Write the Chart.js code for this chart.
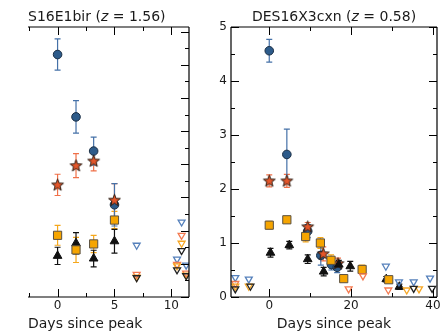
<!DOCTYPE html>
<html>
<head>
<meta charset="utf-8">
<script src="https://cdn.jsdelivr.net/npm/chart.js@4.4.1/dist/chart.umd.min.js"></script>
<style>
  html, body { margin: 0; padding: 0; background: #fff; }
  #wrap { position: relative; width: 444px; height: 332px; overflow: hidden; }
  #left { position: absolute; left: 0; top: 0; }
  #right { position: absolute; left: 200px; top: 0; }
</style>
</head>
<body>
<div id="wrap">
  <canvas id="left" width="200" height="332"></canvas>
  <canvas id="right" width="244" height="332"></canvas>
</div>
<script>
// ---- S16E1bir (left panel) ----
const leftDays = [0, 1.62, 3.17, 5.0];
const leftBlue = [3.655, 2.715, 2.20, 1.39];
const leftBlueErr = [0.235, 0.245, 0.21, 0.32];
const leftRed = [1.69, 1.98, 2.05, 1.46];
const leftRedErr = [0.16, 0.18, 0.15, 0.25];
const leftOrange = [0.93, 0.71, 0.80, 1.16];
const leftOrangeErr = [0.15, 0.19, 0.13, 0.13];
const leftBlack = [0.62, 0.81, 0.58, 0.84];
const leftBlackErr = [0.13, 0.16, 0.125, 0.18];
// upper limits
const leftLimDays = [6.95, 10.5, 10.9, 11.3];
const leftBlueLim = [0.78, 0.57, 1.13, 0.48];
const leftRedLim = [0.34, 0.49, 0.93, 0.36];
const leftOrangeLim = [0.30, 0.47, 0.81, 0.33];
const leftBlackLim = [0.29, 0.41, 0.70, 0.32];

// ---- DES16X3cxn (right panel) ----
const rBlueDays = [0, 4.3, 9.4, 12.6, 15.2, 16.6];
const rBlue = [4.56, 2.64, 1.22, 0.77, 0.60, 0.55];
const rBlueErr = [0.21, 0.47, 0.12, 0.18, 0.1, 0.1];
const rRedDays = [0, 4.3, 9.4, 13.2, 16.8];
const rRed = [2.15, 2.15, 1.30, 0.80, 0.62];
const rRedErr = [0.11, 0.12, 0.08, 0.13, 0.1];
const rOrangeDays = [0, 4.3, 8.9, 12.5, 15.1, 18.2, 22.7, 29.2];
const rOrange = [1.33, 1.43, 1.12, 1.0, 0.68, 0.34, 0.51, 0.32];
const rOrangeErr = [0.07, 0.05, 0.1, 0.1, 0.1, 0.05, 0.08, 0.04];
const rBlackDays = [0.3, 4.9, 9.4, 13.3, 17.0, 19.8, 28.6, 31.8];
const rBlack = [0.82, 0.96, 0.70, 0.47, 0.60, 0.57, 0.33, 0.19];
const rBlackErr = [0.08, 0.07, 0.08, 0.08, 0.08, 0.09, 0.05, 0.05];
// upper limits
const rBlueLimDays = [-8.3, -5.0, 28.5, 31.7, 35.3, 39.3];
const rBlueLim = [0.36, 0.33, 0.57, 0.28, 0.28, 0.35];
const rRedLimDays = [-8.3, 19.4, 22.9, 29.1];
const rRedLim = [0.25, 0.15, 0.39, 0.13];
const rOrangeLimDays = [-8.3, -5.0, 33.6, 36.6];
const rOrangeLim = [0.20, 0.20, 0.13, 0.15];
const rBlackLimDays = [-8.3, -4.6, 35.3, 39.8];
const rBlackLim = [0.15, 0.20, 0.16, 0.16];

// axis ticks
const leftXMajor = [0, 5, 10];
const leftXMinor = [-2.5, 2.5, 7.5];
const leftYMajor = [0, 0.5, 1, 1.5, 2, 2.5, 3, 3.5, 4];
const leftYMinor = [0.25, 0.75, 1.25, 1.75, 2.25, 2.75, 3.25, 3.75];
const rightXMajor = [0, 20, 40];
const rightXMinor = [10, 30];
const rightYMajor = [0, 1, 2, 3, 4, 5];
const rightYMinor = [0.5, 1.5, 2.5, 3.5, 4.5];

const C = {
  blue: '#2d5b8a', blueEdge: '#1a2e44', blueErr: '#4571a8', blueLim: '#5580bb',
  red: '#e4562a', redErr: '#f07048', redLim: '#f47a50',
  orange: '#f6a500', orangeEdge: '#5a5040', orangeErr: '#f5a81c', orangeLim: '#f6a623',
  black: '#111111', blackLim: '#222222'
};

function pts(xs, ys) { return xs.map((x, i) => ({ x: x, y: ys[i] })); }

// filled five-pointed star marker
const star = document.createElement('canvas');
star.width = 15; star.height = 15;
(function () {
  const g = star.getContext('2d');
  g.beginPath();
  for (let k = 0; k < 10; k++) {
    const r = k % 2 === 0 ? 6.2 : 2.6;
    const a = -Math.PI / 2 + k * Math.PI / 5;
    const px = 7.5 + r * Math.cos(a), py = 7.8 + r * Math.sin(a);
    if (k === 0) g.moveTo(px, py); else g.lineTo(px, py);
  }
  g.closePath();
  g.fillStyle = C.red; g.fill();
  g.lineWidth = 1; g.strokeStyle = '#2a1a10'; g.stroke();
})();

function limSet(xs, ys, col) {
  return {
    data: pts(xs, ys), pointStyle: 'triangle', rotation: 180, pointRadius: 4,
    backgroundColor: 'rgba(255,255,255,0)', borderColor: col, borderWidth: 1.3
  };
}

function makeSets(p) {
  return [
    limSet(p.limBlack[0], p.limBlack[1], C.blackLim),
    limSet(p.limOrange[0], p.limOrange[1], C.orangeLim),
    limSet(p.limRed[0], p.limRed[1], C.redLim),
    limSet(p.limBlue[0], p.limBlue[1], C.blueLim),
    { data: pts(p.orange[0], p.orange[1]), err: p.orange[2], errColor: C.orangeErr,
      pointStyle: 'rect', pointRadius: 5.8, backgroundColor: C.orange, borderColor: C.orangeEdge, borderWidth: 1 },
    { data: pts(p.black[0], p.black[1]), err: p.black[2], errColor: C.black,
      pointStyle: 'triangle', pointRadius: 5, backgroundColor: C.black, borderColor: C.black, borderWidth: 1 },
    { data: pts(p.red[0], p.red[1]), err: p.red[2], errColor: C.redErr,
      pointStyle: star, pointRadius: 6 },
    { data: pts(p.blue[0], p.blue[1]), err: p.blue[2], errColor: C.blueErr,
      pointStyle: 'circle', pointRadius: 4.3, backgroundColor: C.blue, borderColor: C.blueEdge, borderWidth: 1 }
  ];
}

const frame = {
  id: 'frame',
  beforeDatasetsDraw(chart) {
    const ctx = chart.ctx, xs = chart.scales.x, ys = chart.scales.y;
    ctx.save();
    ctx.lineWidth = 1.2;
    chart.data.datasets.forEach(ds => {
      if (!ds.err) return;
      ctx.strokeStyle = ds.errColor;
      ds.data.forEach((d, i) => {
        const px = xs.getPixelForValue(d.x);
        const y1 = ys.getPixelForValue(d.y + ds.err[i]);
        const y2 = ys.getPixelForValue(d.y - ds.err[i]);
        ctx.beginPath();
        ctx.moveTo(px, y1); ctx.lineTo(px, y2);
        ctx.moveTo(px - 3, y1); ctx.lineTo(px + 3, y1);
        ctx.moveTo(px - 3, y2); ctx.lineTo(px + 3, y2);
        ctx.stroke();
      });
    });
    ctx.restore();
  },
  afterDatasetsDraw(chart, args, o) {
    const ctx = chart.ctx, a = chart.chartArea, xs = chart.scales.x, ys = chart.scales.y;
    ctx.save();
    ctx.strokeStyle = '#000';
    ctx.lineWidth = 1.2;
    ctx.beginPath();
    if (o.spines.includes('top')) { ctx.moveTo(a.left, a.top); ctx.lineTo(a.right, a.top); }
    if (o.spines.includes('bottom')) { ctx.moveTo(a.left, a.bottom); ctx.lineTo(a.right, a.bottom); }
    if (o.spines.includes('left')) { ctx.moveTo(a.left, a.top); ctx.lineTo(a.left, a.bottom); }
    if (o.spines.includes('right')) { ctx.moveTo(a.right, a.top); ctx.lineTo(a.right, a.bottom); }
    ctx.stroke();
    ctx.lineWidth = 1;
    ctx.beginPath();
    const xt = (list, len) => list.forEach(v => {
      const px = Math.round(xs.getPixelForValue(v)) + 0.5;
      ctx.moveTo(px, a.bottom); ctx.lineTo(px, a.bottom - len);
      ctx.moveTo(px, a.top); ctx.lineTo(px, a.top + len);
    });
    const yt = (list, len) => list.forEach(v => {
      const py = Math.round(ys.getPixelForValue(v)) + 0.5;
      if (o.spines.includes('left')) { ctx.moveTo(a.left, py); ctx.lineTo(a.left + len, py); }
      ctx.moveTo(a.right, py); ctx.lineTo(a.right - len, py);
    });
    xt(o.xMajor, 8); xt(o.xMinor, 4); yt(o.yMajor, 8); yt(o.yMinor, 4);
    ctx.stroke();
    ctx.restore();
  },
  afterDraw(chart, args, o) {
    const ctx = chart.ctx, a = chart.chartArea;
    ctx.save();
    ctx.fillStyle = '#1a1a1a';
    ctx.textBaseline = 'alphabetic';
    const fontOf = p => (p.i ? 'italic ' : '') + '14px "DejaVu Sans"';
    let w = 0;
    o.title.forEach(p => { ctx.font = fontOf(p); w += ctx.measureText(p.t).width; });
    let x = o.titleAlign === 'start' ? a.left : (a.left + a.right) / 2 - w / 2;
    o.title.forEach(p => {
      ctx.font = fontOf(p);
      ctx.fillText(p.t, x, 21);
      x += ctx.measureText(p.t).width;
    });
    ctx.restore();
  }
};

function xAxis(min, max, major, align) {
  return {
    type: 'linear', min: min, max: max,
    afterBuildTicks: s => { s.ticks = major.map(v => ({ value: v })); },
    afterFit: s => { s.height = 35; },
    grid: { display: false, drawTicks: false }, border: { display: false },
    ticks: { font: { family: 'DejaVu Sans', size: 12 }, color: '#1a1a1a', padding: 2, maxRotation: 0, autoSkip: false },
    title: { display: true, text: 'Days since peak', align: align,
      font: { family: 'DejaVu Sans', size: 14 }, color: '#1a1a1a', padding: { top: 0, bottom: -1 } }
  };
}

Chart.register(frame);

new Chart(document.getElementById('left'), {
  type: 'scatter',
  data: { datasets: makeSets({
    blue: [leftDays, leftBlue, leftBlueErr], red: [leftDays, leftRed, leftRedErr],
    orange: [leftDays, leftOrange, leftOrangeErr], black: [leftDays, leftBlack, leftBlackErr],
    limBlue: [leftLimDays, leftBlueLim], limRed: [leftLimDays, leftRedLim],
    limOrange: [leftLimDays, leftOrangeLim], limBlack: [leftLimDays, leftBlackLim]
  }) },
  options: {
    responsive: false, animation: false, events: [],
    layout: { padding: { left: 28, right: 11, top: 27, bottom: 0 } },
    plugins: { legend: { display: false }, tooltip: { enabled: false },
      frame: { spines: ['top', 'bottom', 'right'], xMajor: leftXMajor, xMinor: leftXMinor,
        yMajor: leftYMajor, yMinor: leftYMinor, titleAlign: 'start',
        title: [{ t: 'S16E1bir (' }, { t: 'z', i: true }, { t: ' = ' }, { t: '1.56)' }] } },
    scales: {
      x: xAxis(-2.6, 11.55, leftXMajor, 'start'),
      y: { type: 'linear', min: 0, max: 4.07, display: false }
    }
  }
});

new Chart(document.getElementById('right'), {
  type: 'scatter',
  data: { datasets: makeSets({
    blue: [rBlueDays, rBlue, rBlueErr], red: [rRedDays, rRed, rRedErr],
    orange: [rOrangeDays, rOrange, rOrangeErr], black: [rBlackDays, rBlack, rBlackErr],
    limBlue: [rBlueLimDays, rBlueLim], limRed: [rRedLimDays, rRedLim],
    limOrange: [rOrangeLimDays, rOrangeLim], limBlack: [rBlackLimDays, rBlackLim]
  }) },
  options: {
    responsive: false, animation: false, events: [],
    layout: { padding: { left: 0, right: 3.4, top: 27, bottom: 0 } },
    plugins: { legend: { display: false }, tooltip: { enabled: false },
      frame: { spines: ['top', 'bottom', 'left', 'right'], xMajor: rightXMajor, xMinor: rightXMinor,
        yMajor: rightYMajor, yMinor: rightYMinor, titleAlign: 'center',
        title: [{ t: 'DES16X3cxn (' }, { t: 'z', i: true }, { t: ' = ' }, { t: '0.58)' }] } },
    scales: {
      x: xAxis(-9.35, 41.0, rightXMajor, 'center'),
      y: {
        type: 'linear', min: 0, max: 5,
        afterBuildTicks: s => { s.ticks = rightYMajor.map(v => ({ value: v })); },
        afterFit: s => { s.width = 31; },
        grid: { display: false, drawTicks: false }, border: { display: false },
        ticks: { font: { family: 'DejaVu Sans', size: 12 }, color: '#1a1a1a', padding: 4 }
      }
    }
  }
});
</script>
</body>
</html>
